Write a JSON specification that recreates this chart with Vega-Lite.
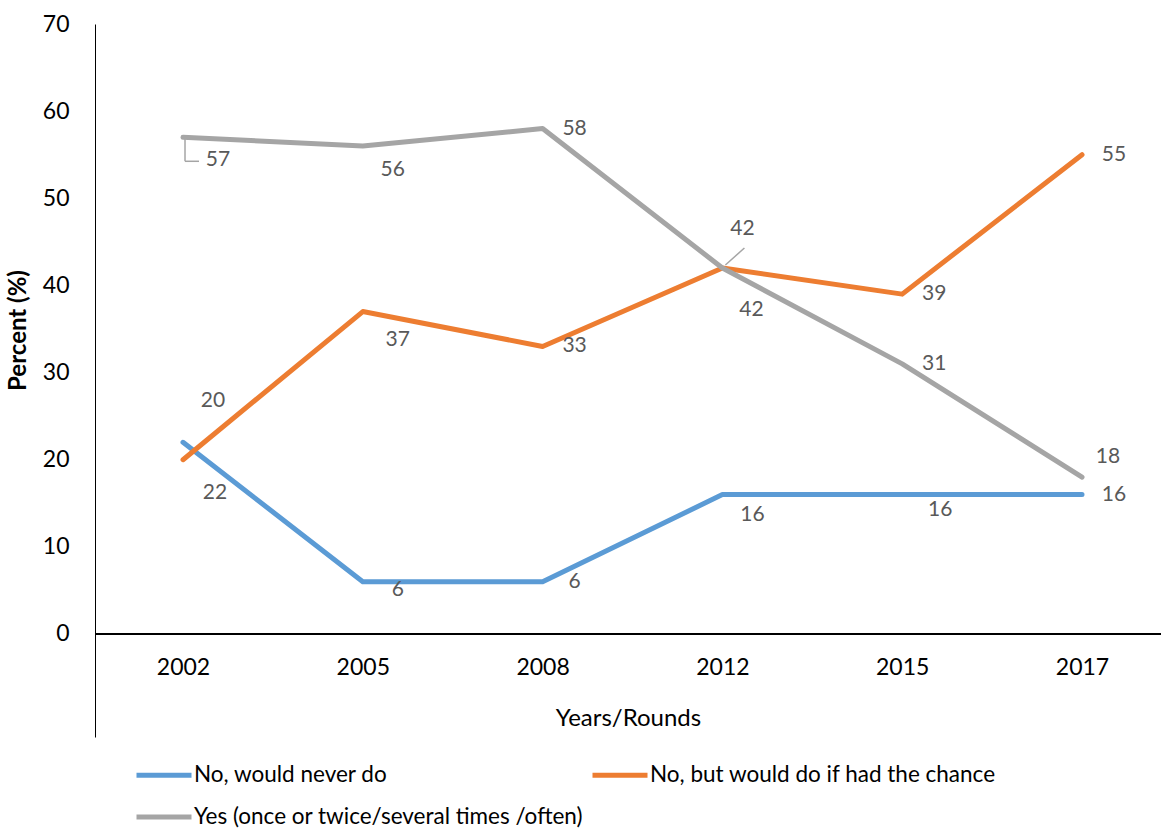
{
  "$schema": "https://vega.github.io/schema/vega-lite/v6.json",
  "width": 1066,
  "height": 713,
  "autosize": {"type": "none"},
  "padding": {"left": 95, "top": 24, "right": 0, "bottom": 93},
  "background": "white",
  "config": {"view": {"stroke": null}, "font": "Lato"},
  "data": {
    "values": [
      {"year": "2002", "s": "n", "series": "No, would never do", "value": 22},
      {"year": "2005", "s": "n", "series": "No, would never do", "value": 6},
      {"year": "2008", "s": "n", "series": "No, would never do", "value": 6},
      {"year": "2012", "s": "n", "series": "No, would never do", "value": 16},
      {"year": "2015", "s": "n", "series": "No, would never do", "value": 16},
      {"year": "2017", "s": "n", "series": "No, would never do", "value": 16},
      {"year": "2002", "s": "c", "series": "No, but would do if had the chance", "value": 20},
      {"year": "2005", "s": "c", "series": "No, but would do if had the chance", "value": 37},
      {"year": "2008", "s": "c", "series": "No, but would do if had the chance", "value": 33},
      {"year": "2012", "s": "c", "series": "No, but would do if had the chance", "value": 42},
      {"year": "2015", "s": "c", "series": "No, but would do if had the chance", "value": 39},
      {"year": "2017", "s": "c", "series": "No, but would do if had the chance", "value": 55},
      {"year": "2002", "s": "y", "series": "Yes (once or twice/several times /often)", "value": 57},
      {"year": "2005", "s": "y", "series": "Yes (once or twice/several times /often)", "value": 56},
      {"year": "2008", "s": "y", "series": "Yes (once or twice/several times /often)", "value": 58},
      {"year": "2012", "s": "y", "series": "Yes (once or twice/several times /often)", "value": 42},
      {"year": "2015", "s": "y", "series": "Yes (once or twice/several times /often)", "value": 31},
      {"year": "2017", "s": "y", "series": "Yes (once or twice/several times /often)", "value": 18}
    ]
  },
  "layer": [
    {
      "mark": {"type": "rule", "color": "#000000", "strokeWidth": 1},
      "encoding": {"y": {"datum": 0, "type": "quantitative"}}
    },
    {
      "mark": {"type": "line", "strokeWidth": 5, "strokeCap": "round", "strokeJoin": "round"},
      "encoding": {
        "x": {
          "field": "year", "type": "ordinal", "sort": null,
          "scale": {"type": "point", "padding": 0.4644, "align": 0.527},
          "axis": {
            "title": "Years/Rounds", "orient": "bottom", "offset": -103,
            "domain": false, "ticks": false, "grid": false,
            "labelPadding": 22, "labelFontSize": 23, "labelColor": "#000000", "labelAngle": 0,
            "titleFontSize": 24, "titleFontWeight": "normal", "titleColor": "#000000",
            "titleY": 84, "titleBaseline": "middle"
          }
        },
        "y": {
          "field": "value", "type": "quantitative",
          "scale": {"domain": [-11.82, 70], "nice": false, "zero": false},
          "axis": {
            "values": [0, 10, 20, 30, 40, 50, 60, 70],
            "title": "Percent (%)", "grid": false, "ticks": false,
            "domainColor": "#000000", "domainWidth": 1,
            "labelPadding": 26, "labelFontSize": 23, "labelColor": "#000000",
            "titleFontSize": 24, "titleFontWeight": "bold", "titleColor": "#000000",
            "titleX": -77, "titleY": 306, "titleAngle": -90, "titleAlign": "center", "titleBaseline": "middle"
          }
        },
        "color": {
          "field": "series", "type": "nominal",
          "scale": {
            "domain": ["No, would never do", "No, but would do if had the chance", "Yes (once or twice/several times /often)"],
            "range": ["#5B9BD5", "#ED7D31", "#A5A5A5"]
          },
          "legend": {
            "title": null, "orient": "none", "legendX": 39, "legendY": 721,
            "direction": "horizontal", "columns": 2,
            "symbolType": "stroke", "symbolSize": 3025, "symbolStrokeWidth": 5,
            "labelFontSize": 22.5, "labelColor": "#000000", "labelOffset": 0,
            "columnPadding": -1, "rowPadding": -6, "padding": 0, "labelLimit": 600
          }
        }
      }
    },
    {
      "transform": [{"filter": "datum.s == 'y' && datum.year == '2002'"}],
      "mark": {"type": "rule", "color": "#A5A5A5", "strokeWidth": 1.5, "xOffset": 2, "x2Offset": 2, "yOffset": 1, "y2Offset": 24},
      "encoding": {
        "x": {"field": "year", "type": "ordinal"}, "x2": {"field": "year"},
        "y": {"field": "value", "type": "quantitative"}, "y2": {"field": "value"}
      }
    },
    {
      "transform": [{"filter": "datum.s == 'y' && datum.year == '2002'"}],
      "mark": {"type": "rule", "color": "#A5A5A5", "strokeWidth": 1.5, "xOffset": 2, "x2Offset": 16, "yOffset": 24, "y2Offset": 24},
      "encoding": {
        "x": {"field": "year", "type": "ordinal"}, "x2": {"field": "year"},
        "y": {"field": "value", "type": "quantitative"}, "y2": {"field": "value"}
      }
    },
    {
      "transform": [{"filter": "datum.s == 'c' && datum.year == '2012'"}],
      "mark": {"type": "rule", "color": "#A5A5A5", "strokeWidth": 1.5, "xOffset": 3, "x2Offset": 22, "yOffset": -3, "y2Offset": -20},
      "encoding": {
        "x": {"field": "year", "type": "ordinal"}, "x2": {"field": "year"},
        "y": {"field": "value", "type": "quantitative"}, "y2": {"field": "value"}
      }
    },
    {
      "transform": [{"filter": "(datum.s == 'n' && (datum.year == '2008' || datum.year == '2017')) || (datum.s == 'c' && (datum.year == '2008' || datum.year == '2015' || datum.year == '2017')) || (datum.s == 'y' && (datum.year == '2008' || datum.year == '2015'))"}],
      "mark": {"type": "text", "dx": 32, "dy": 0, "fontSize": 21, "color": "#595959"},
      "encoding": {"x": {"field": "year", "type": "ordinal"}, "y": {"field": "value", "type": "quantitative"}, "text": {"field": "value"}}
    },
    {
      "transform": [{"filter": "datum.s == 'n' && datum.year == '2002'"}],
      "mark": {"type": "text", "dx": 32, "dy": 51, "fontSize": 21, "color": "#595959"},
      "encoding": {"x": {"field": "year", "type": "ordinal"}, "y": {"field": "value", "type": "quantitative"}, "text": {"field": "value"}}
    },
    {
      "transform": [{"filter": "datum.s == 'n' && datum.year == '2005'"}],
      "mark": {"type": "text", "dx": 35, "dy": 8, "fontSize": 21, "color": "#595959"},
      "encoding": {"x": {"field": "year", "type": "ordinal"}, "y": {"field": "value", "type": "quantitative"}, "text": {"field": "value"}}
    },
    {
      "transform": [{"filter": "datum.s == 'n' && datum.year == '2012'"}],
      "mark": {"type": "text", "dx": 30, "dy": 20, "fontSize": 21, "color": "#595959"},
      "encoding": {"x": {"field": "year", "type": "ordinal"}, "y": {"field": "value", "type": "quantitative"}, "text": {"field": "value"}}
    },
    {
      "transform": [{"filter": "datum.s == 'n' && datum.year == '2015'"}],
      "mark": {"type": "text", "dx": 38, "dy": 15, "fontSize": 21, "color": "#595959"},
      "encoding": {"x": {"field": "year", "type": "ordinal"}, "y": {"field": "value", "type": "quantitative"}, "text": {"field": "value"}}
    },
    {
      "transform": [{"filter": "datum.s == 'c' && datum.year == '2002'"}],
      "mark": {"type": "text", "dx": 30, "dy": -59, "fontSize": 21, "color": "#595959"},
      "encoding": {"x": {"field": "year", "type": "ordinal"}, "y": {"field": "value", "type": "quantitative"}, "text": {"field": "value"}}
    },
    {
      "transform": [{"filter": "datum.s == 'c' && datum.year == '2005'"}],
      "mark": {"type": "text", "dx": 35, "dy": 28, "fontSize": 21, "color": "#595959"},
      "encoding": {"x": {"field": "year", "type": "ordinal"}, "y": {"field": "value", "type": "quantitative"}, "text": {"field": "value"}}
    },
    {
      "transform": [{"filter": "datum.s == 'c' && datum.year == '2012'"}],
      "mark": {"type": "text", "dx": 20, "dy": -39, "fontSize": 21, "color": "#595959"},
      "encoding": {"x": {"field": "year", "type": "ordinal"}, "y": {"field": "value", "type": "quantitative"}, "text": {"field": "value"}}
    },
    {
      "transform": [{"filter": "datum.s == 'y' && datum.year == '2002'"}],
      "mark": {"type": "text", "dx": 35, "dy": 23, "fontSize": 21, "color": "#595959"},
      "encoding": {"x": {"field": "year", "type": "ordinal"}, "y": {"field": "value", "type": "quantitative"}, "text": {"field": "value"}}
    },
    {
      "transform": [{"filter": "datum.s == 'y' && datum.year == '2005'"}],
      "mark": {"type": "text", "dx": 30, "dy": 24, "fontSize": 21, "color": "#595959"},
      "encoding": {"x": {"field": "year", "type": "ordinal"}, "y": {"field": "value", "type": "quantitative"}, "text": {"field": "value"}}
    },
    {
      "transform": [{"filter": "datum.s == 'y' && datum.year == '2012'"}],
      "mark": {"type": "text", "dx": 29, "dy": 42, "fontSize": 21, "color": "#595959"},
      "encoding": {"x": {"field": "year", "type": "ordinal"}, "y": {"field": "value", "type": "quantitative"}, "text": {"field": "value"}}
    },
    {
      "transform": [{"filter": "datum.s == 'y' && datum.year == '2017'"}],
      "mark": {"type": "text", "dx": 26, "dy": -20, "fontSize": 21, "color": "#595959"},
      "encoding": {"x": {"field": "year", "type": "ordinal"}, "y": {"field": "value", "type": "quantitative"}, "text": {"field": "value"}}
    }
  ]
}
